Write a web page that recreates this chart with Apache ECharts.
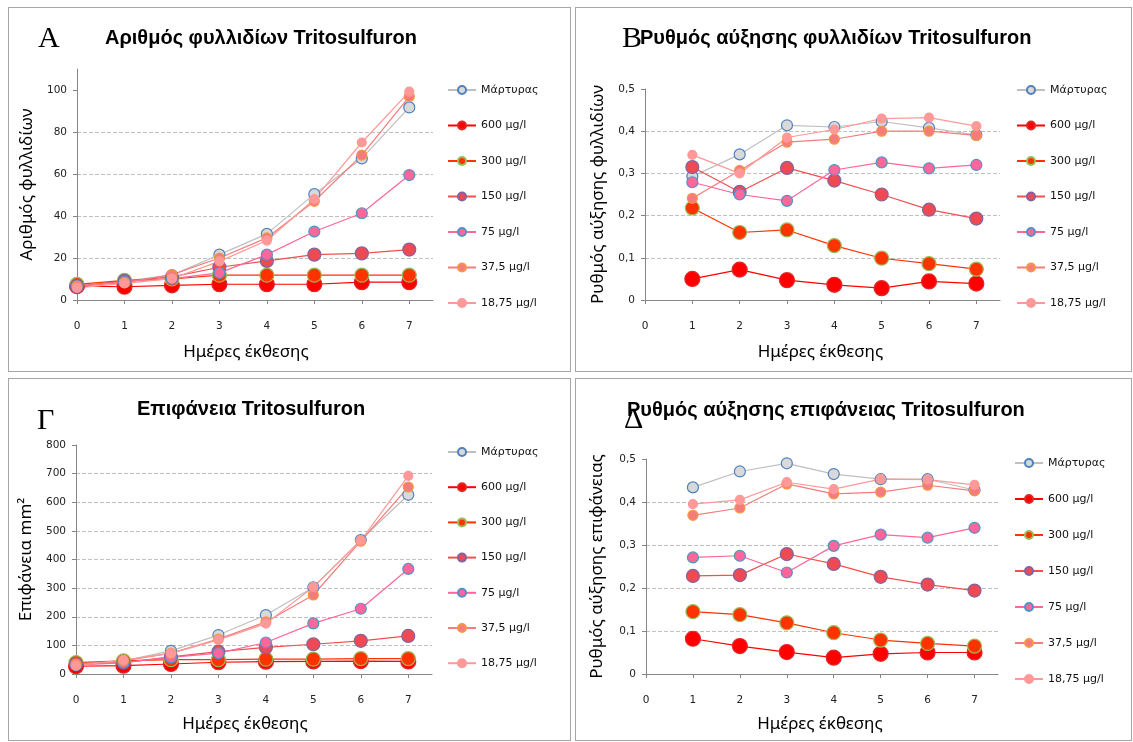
<!DOCTYPE html>
<html><head><meta charset="utf-8">
<script src="https://cdn.jsdelivr.net/npm/echarts@6/dist/echarts.min.js"></script>
<style>
html,body{margin:0;padding:0;background:#fff;width:1133px;height:742px;overflow:hidden}
.p{position:absolute;border:1px solid #a6a6a6;box-sizing:border-box;background:#fff}
</style></head><body>
<div id="pA" class="p" style="left:8px;top:7px;width:563px;height:365px"></div>
<div id="pB" class="p" style="left:575px;top:7px;width:557px;height:365px"></div>
<div id="pC" class="p" style="left:8px;top:378px;width:563px;height:363px"></div>
<div id="pD" class="p" style="left:575px;top:378px;width:557px;height:363px"></div>
<script>
// ---------- data ----------
const seriesNames = ['Μάρτυρας','600 µg/l','300 µg/l','150 µg/l','75 µg/l','37,5 µg/l','18,75 µg/l'];
const days0 = [0,1,2,3,4,5,6,7];
const days1 = [1,2,3,4,5,6,7];
const xTicks = [0,1,2,3,4,5,6,7];

// A: leaflet count
const A_control = [6.6, 9.0, 11.8, 21.6, 31.5, 50.4, 67.4, 91.7];
const A_600     = [6.6, 6.3, 7.0, 7.5, 7.5, 7.5, 8.5, 8.5];
const A_300     = [7.4, 9.3, 10.0, 11.8, 11.8, 11.8, 11.8, 11.8];
const A_150     = [6.6, 9.0, 11.0, 15.6, 18.6, 21.6, 22.2, 24.0];
const A_75      = [6.6, 8.7, 10.2, 12.9, 21.6, 32.6, 41.3, 59.5];
const A_37_5    = [6.6, 8.3, 12.1, 20.0, 29.6, 47.0, 69.0, 96.9];
const A_18_75   = [5.8, 7.9, 10.2, 18.4, 28.3, 48.0, 75.0, 99.2];
const A_yTicks  = [0,20,40,60,80,100];

// B: leaflet growth rate
const B_control = [0.293, 0.345, 0.414, 0.410, 0.423, 0.408, 0.391];
const B_600     = [0.050, 0.072, 0.047, 0.036, 0.028, 0.044, 0.039];
const B_300     = [0.218, 0.160, 0.166, 0.129, 0.099, 0.086, 0.073];
const B_150     = [0.315, 0.256, 0.313, 0.283, 0.250, 0.214, 0.193];
const B_75      = [0.279, 0.250, 0.235, 0.308, 0.326, 0.312, 0.320];
const B_37_5    = [0.241, 0.307, 0.374, 0.381, 0.400, 0.400, 0.390];
const B_18_75   = [0.344, 0.300, 0.385, 0.404, 0.430, 0.432, 0.412];
const B_yTicks  = [0,0.1,0.2,0.3,0.4,0.5];

// Γ: area
const C_control = [35, 46, 81, 136, 206, 303, 468, 626];
const C_600     = [27, 29, 35, 41, 43, 44, 45, 44];
const C_300     = [40, 46, 50, 50, 52, 52, 54, 54];
const C_150     = [35, 40, 60, 78, 93, 104, 116, 133];
const C_75      = [31, 40, 58, 73, 110, 177, 228, 367];
const C_37_5    = [35, 46, 73, 122, 182, 276, 464, 653];
const C_18_75   = [29, 49, 72, 119, 176, 304, 466, 692];
const C_yTicks  = [0,100,200,300,400,500,600,700,800];

// Δ: area growth rate
const D_control = [0.434, 0.471, 0.490, 0.465, 0.453, 0.453, 0.428];
const D_600     = [0.082, 0.065, 0.051, 0.038, 0.047, 0.050, 0.050];
const D_300     = [0.145, 0.138, 0.119, 0.096, 0.079, 0.071, 0.065];
const D_150     = [0.228, 0.230, 0.279, 0.256, 0.226, 0.208, 0.194];
const D_75      = [0.271, 0.275, 0.236, 0.298, 0.324, 0.317, 0.340];
const D_37_5    = [0.369, 0.386, 0.442, 0.419, 0.423, 0.439, 0.426];
const D_18_75   = [0.395, 0.405, 0.446, 0.430, 0.453, 0.452, 0.440];
const D_yTicks  = [0,0.1,0.2,0.3,0.4,0.5];

// ---------- styles ----------
const styles = [
  {line:'#BFBFBF', fill:'#D9D9D9', border:'#4F81BD', size:11},
  {line:'#FF0000', fill:'#FF0000', border:'#E02828', size:15},
  {line:'#FF3300', fill:'#FF3300', border:'#9BBB59', size:14},
  {line:'#F0504F', fill:'#EF4A53', border:'#8064A2', size:13},
  {line:'#FF6699', fill:'#FF6699', border:'#4F94C8', size:11},
  {line:'#F47C7C', fill:'#F47C7C', border:'#F79646', size:10},
  {line:'#FF9999', fill:'#FF9999', border:'#FF9999', size:9}
];
const comma = v => String(v).replace('.', ',');

function build(el, cfg) {
  const chart = echarts.init(document.getElementById(el), null, {renderer:'canvas'});
  const series = cfg.data.map((arr, i) => ({
    name: seriesNames[i], type:'line', symbol:'circle', symbolSize: styles[i].size,
    data: arr.map((v, k) => [cfg.days[k], v]),
    lineStyle:{color: styles[i].line, width:1.2},
    itemStyle:{color: styles[i].fill, borderColor: styles[i].border, borderWidth:1.2},
    emphasis:{disabled:true}
  }));
  chart.setOption({
    animation:false,
    textStyle:{fontFamily:'DejaVu Sans'},
    title:[
      {text: cfg.letter, left: cfg.letterPos[0], top: cfg.letterPos[1], padding:0,
       textStyle:{fontFamily:'Liberation Serif', fontSize:30, fontWeight:'normal', color:'#000'}},
      {text: cfg.title, left: cfg.titlePos[0], top: cfg.titlePos[1], padding:0,
       textStyle:{fontFamily:'Liberation Sans', fontSize:20, fontWeight:'bold', color:'#000'}}
    ],
    legend:{orient:'vertical', left: cfg.legendPos[0], top: cfg.legendPos[1], padding:0,
      itemWidth:28, itemHeight:10, itemGap: cfg.legendGap, data: seriesNames, selectedMode:false,
      textStyle:{fontSize:11, color:'#111', lineHeight:14, fontFamily:'DejaVu Sans'}},
    grid:{left: cfg.grid[0], right: cfg.grid[1], top: cfg.grid[2], bottom: cfg.grid[3]},
    xAxis:{type:'value', min:0, max:7.5, interval:1,
      name:'Ημέρες έκθεσης', nameLocation:'middle', nameGap: cfg.xNameGap,
      nameTextStyle:{fontFamily:'Noto Sans', fontSize:17, color:'#000', padding:[0,cfg.xNamePad,0,0]},
      axisLine:{lineStyle:{color:'#868686'}},
      axisTick:{length:4, lineStyle:{color:'#868686'}, customValues: xTicks},
      axisLabel:{customValues: xTicks, margin:21, color:'#222', fontSize:10.5,
        formatter: v => Number.isInteger(v) ? String(v) : ''},
      splitLine:{show:false}},
    yAxis:{type:'value', min:0, max: cfg.yMax, interval: cfg.yInterval,
      name: cfg.yName, nameLocation:'middle', nameGap: cfg.yNameGap,
      nameTextStyle:{fontFamily:'Noto Sans', fontSize:17, color:'#000'},
      axisLine:{show:true, lineStyle:{color:'#868686'}},
      axisTick:{show:true, length:4, lineStyle:{color:'#868686'}, customValues: cfg.yTicks},
      axisLabel:{customValues: cfg.yTicks, margin:10, color:'#222', fontSize:10.5,
        formatter: v => comma(Math.round(v*1000)/1000)},
      splitLine:{show:true, showMaxLine:false, lineStyle:{type:'dashed', color:'#BFBFBF'}}},
    series
  });
}

build('pA', {
  letter:'A', letterPos:[29,16], title:'Αριθμός φυλλιδίων Tritosulfuron', titlePos:[96,20],
  legendPos:[438,75], legendGap:21.5, grid:[68,137,61,71],
  xNameGap:44, xNamePad:18, yName:'Αριθμός φυλλιδίων', yNameGap:38, yMax:110, yInterval:20, yTicks:A_yTicks,
  days: days0, data:[A_control,A_600,A_300,A_150,A_75,A_37_5,A_18_75]
});
build('pB', {
  letter:'B', letterPos:[46,16], title:'Ρυθμός αύξησης φυλλιδίων Tritosulfuron', titlePos:[64,20],
  legendPos:[440,75], legendGap:21.5, grid:[69,131,81,71],
  xNameGap:44, xNamePad:4, yName:'Ρυθμός αύξησης φυλλιδίων', yNameGap:38, yMax:0.5, yInterval:0.1, yTicks:B_yTicks,
  days: days1, data:[B_control,B_600,B_300,B_150,B_75,B_37_5,B_18_75]
});
build('pC', {
  letter:'Γ', letterPos:[28,27], title:'Επιφάνεια Tritosulfuron', titlePos:[128,20],
  legendPos:[438,66], legendGap:21.2, grid:[67,138,66,66],
  xNameGap:42, xNamePad:18, yName:'Επιφάνεια mm²', yNameGap:40, yMax:800, yInterval:100, yTicks:C_yTicks,
  days: days0, data:[C_control,C_600,C_300,C_150,C_75,C_37_5,C_18_75]
});
build('pD', {
  letter:'Δ', letterPos:[48,26], title:'Ρυθμός αύξησης επιφάνειας Tritosulfuron', titlePos:[51,21],
  legendPos:[438,77], legendGap:22, grid:[70,133,80,66],
  xNameGap:42, xNamePad:4, yName:'Ρυθμός αύξησης επιφάνειας', yNameGap:40, yMax:0.5, yInterval:0.1, yTicks:D_yTicks,
  days: days1, data:[D_control,D_600,D_300,D_150,D_75,D_37_5,D_18_75]
});
</script>
</body></html>
